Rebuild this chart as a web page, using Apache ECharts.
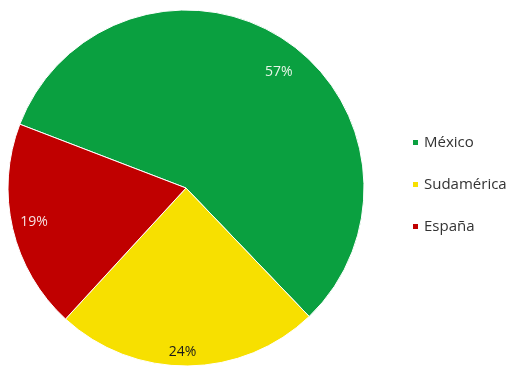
<!DOCTYPE html>
<html><head><meta charset="utf-8">
<script src="https://cdn.jsdelivr.net/npm/echarts@6/dist/echarts.min.js"></script>
<style>html,body{margin:0;padding:0;background:#fff}#c{width:511px;height:366px}</style>
</head><body><div id="c"></div>
<script>
var categories = ['México', 'Sudamérica', 'España'];
var values = [57, 24, 19];
var colors = ['#0aa040', '#f7e000', '#c00000'];
var labelColors = ['#e8f5e8', '#1a1a1a', '#f5e0e0'];
var labelNudges = [[6, 15], [-5, 7], [1, -2]];

var data = categories.map(function(n, i){ return {name: n, value: values[i], itemStyle:{color: colors[i]}}; });
var labelData = categories.map(function(n, i){ return {name: n, value: values[i], itemStyle:{color:'transparent'}, label:{color: labelColors[i], offset: labelNudges[i]}}; });

var chart = echarts.init(document.getElementById('c'));
chart.setOption({
  animation: false,
  legend: {
    orient: 'vertical', left: 406, top: 130,
    itemWidth: 7, itemHeight: 7, itemGap: 27, icon: 'rect',
    textStyle: {fontSize: 15, color: '#333', fontFamily: 'Open Sans'},
    data: categories
  },
  series: [{
    type: 'pie', center: [186, 188], radius: [0, 178],
    startAngle: 159, clockwise: true,
    label: {show: false}, labelLine: {show: false},
    itemStyle: {borderColor: '#fff', borderWidth: 1},
    emphasis: {disabled: true},
    data: data
  }, {
    type: 'pie', center: [186, 188], radius: [140, 168],
    startAngle: 159, clockwise: true, silent: true,
    legendHoverLink: false,
    label: {show: true, position: 'inside', formatter: '{c}%', fontSize: 14, fontFamily: 'Open Sans'},
    labelLine: {show: false},
    emphasis: {disabled: true},
    data: labelData
  }]
});
</script></body></html>
